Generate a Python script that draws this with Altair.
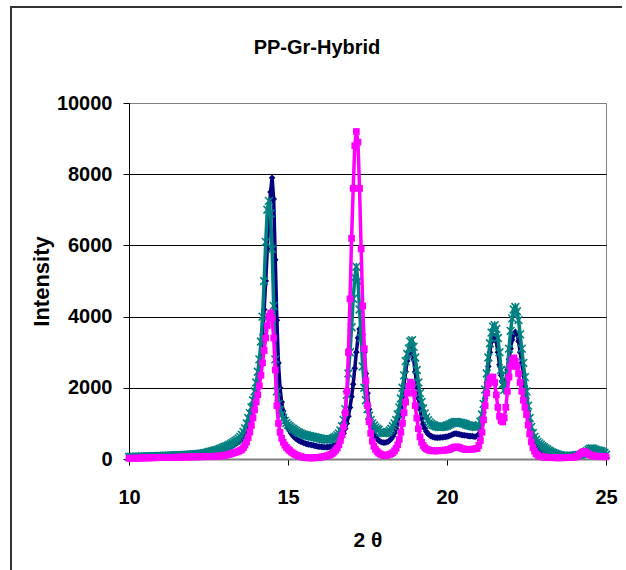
import altair as alt
import pandas as pd

# 2-theta sampling: start and step of the diffractogram (10.00 .. 25.00)
x_start = 10.0
x_step = 0.05

# Series values, one row per degree (20 samples per row)
navy_vals = [
    40, 42, 40, 45, 43, 45, 48, 46, 50, 48, 52, 50, 55, 53, 56, 55, 58, 60, 58, 62,
    65, 63, 66, 68, 70, 72, 70, 75, 78, 76, 80, 82, 85, 83, 88, 90, 92, 95, 98, 100,
    105, 108, 112, 115, 120, 125, 130, 135, 140, 150, 160, 170, 180, 190, 200, 210, 220, 235, 250, 265,
    280, 295, 310, 330, 350, 370, 395, 420, 450, 480, 510, 560, 630, 720, 840, 980, 1150, 1330, 1520, 1720,
    1950, 2200, 2500, 2900, 3500, 4200, 5000, 5900, 6800, 7500, 7900, 7300, 5600, 3900, 2700, 2000, 1600, 1350, 1150, 1000,
    880, 790, 720, 660, 610, 570, 540, 510, 490, 470, 450, 435, 420, 410, 400, 390, 380, 370, 360, 350,
    345, 340, 335, 330, 330, 335, 340, 350, 365, 385, 410, 440, 480, 540, 620, 720, 850, 1000, 1200, 1450,
    1750, 2100, 2550, 3000, 3400, 3650, 3700, 3500, 3000, 2400, 1850, 1400, 1100, 880, 740, 640, 570, 520, 490, 470,
    460, 460, 470, 490, 520, 570, 640, 730, 850, 1000, 1200, 1450, 1750, 2100, 2450, 2750, 2950, 3100, 3050, 2800,
    2450, 2050, 1700, 1400, 1150, 980, 860, 770, 710, 670, 640, 620, 610, 600, 600, 600, 605, 610, 615, 620,
    630, 640, 660, 680, 700, 710, 710, 700, 690, 680, 670, 665, 660, 650, 645, 640, 640, 630, 625, 640,
    700, 820, 1000, 1300, 1700, 2150, 2600, 3000, 3300, 3450, 3450, 3300, 3000, 2650, 2350, 2150, 2100, 2200, 2500, 2800,
    3100, 3350, 3500, 3570, 3500, 3300, 3000, 2700, 2400, 2050, 1700, 1350, 1050, 800, 620, 490, 400, 340, 290, 250,
    220, 200, 185, 170, 160, 150, 140, 135, 130, 125, 120, 115, 110, 108, 105, 103, 100, 100, 102, 105,
    110, 112, 115, 118, 120, 125, 130, 140, 155, 170, 185, 195, 205, 215, 220, 215, 200, 180, 160, 140,
    100,
]

magenta_vals = [
    20, 22, 20, 25, 22, 25, 28, 26, 30, 28, 30, 32, 30, 34, 32, 35, 36, 35, 38, 40,
    40, 42, 40, 44, 45, 43, 46, 48, 47, 50, 50, 52, 50, 54, 55, 53, 56, 58, 57, 60,
    60, 58, 62, 60, 63, 62, 65, 64, 66, 65, 68, 70, 70, 72, 75, 78, 80, 85, 90, 95,
    100, 110, 120, 130, 145, 160, 175, 190, 200, 220, 240, 270, 320, 390, 480, 600, 760, 940, 1150, 1380,
    1600, 1800, 2050, 2350, 2700, 3050, 3400, 3750, 4000, 4100, 3950, 3400, 2500, 1500, 1000, 750, 580, 470, 390, 330,
    280, 240, 200, 170, 140, 115, 95, 80, 65, 55, 45, 40, 35, 32, 30, 30, 32, 35, 40, 45,
    50, 55, 62, 70, 80, 95, 110, 130, 160, 200, 250, 310, 400, 520, 680, 900, 1300, 1900, 3000, 4500,
    6200, 7600, 8800, 9200, 8900, 7600, 5900, 4300, 3100, 2200, 1500, 1050, 720, 500, 360, 270, 210, 170, 140, 120,
    100, 100, 105, 115, 130, 150, 180, 230, 300, 400, 550, 750, 1000, 1300, 1600, 1850, 2050, 2160, 2100, 1850,
    1500, 1150, 850, 620, 470, 380, 320, 285, 260, 245, 235, 230, 228, 228, 230, 232, 235, 240, 245, 250,
    255, 265, 280, 300, 320, 335, 340, 335, 320, 300, 285, 275, 270, 268, 268, 270, 275, 280, 290, 300,
    380, 520, 750, 1100, 1500, 1850, 2100, 2250, 2300, 2300, 2150, 1800, 1450, 1200, 1080, 1040, 1150, 1450, 1900, 2300,
    2600, 2780, 2840, 2750, 2600, 2400, 2150, 1900, 1650, 1450, 1250, 950, 700, 480, 320, 220, 150, 110, 85, 70,
    60, 55, 50, 45, 42, 40, 38, 36, 35, 34, 33, 33, 34, 35, 36, 38, 40, 42, 44, 46,
    50, 60, 80, 110, 150, 190, 210, 200, 170, 140, 115, 100, 90, 85, 80, 78, 75, 72, 70, 65,
    60,
]

teal_vals = [
    60, 62, 58, 65, 63, 60, 68, 66, 70, 65, 72, 70, 75, 73, 78, 76, 80, 78, 82, 85,
    88, 86, 90, 92, 90, 95, 98, 96, 100, 104, 102, 108, 110, 106, 112, 115, 118, 120, 118, 125,
    130, 132, 138, 140, 145, 150, 155, 160, 168, 175, 200, 205, 215, 225, 240, 250, 265, 280, 300, 320,
    340, 355, 375, 395, 420, 450, 480, 510, 540, 580, 620, 680, 760, 860, 1000, 1150, 1290, 1450, 1650, 1900,
    2150, 2450, 2800, 3300, 4000, 5000, 6100, 7000, 7250, 6900, 5900, 4300, 2800, 1900, 1550, 1380, 1250, 1150, 1070, 1010,
    960, 920, 880, 850, 820, 790, 760, 740, 720, 700, 680, 670, 660, 650, 640, 630, 620, 610, 600, 590,
    580, 570, 560, 550, 545, 545, 550, 560, 580, 600, 630, 670, 720, 800, 920, 1100, 1400, 1800, 2400, 3000,
    3700, 4500, 5100, 5400, 5000, 4200, 3400, 2600, 2000, 1650, 1400, 1220, 1100, 1000, 940, 890, 850, 820, 760, 740,
    730, 730, 740, 760, 800, 850, 920, 1000, 1100, 1250, 1450, 1700, 2000, 2350, 2750, 2950, 3100, 3300, 3340, 3150,
    2850, 2500, 2150, 1850, 1600, 1420, 1280, 1170, 1090, 1030, 990, 960, 940, 920, 910, 900, 900, 905, 910, 920,
    940, 960, 980, 1000, 1020, 1040, 1040, 1030, 1020, 1010, 1000, 990, 970, 950, 940, 930, 920, 910, 900, 910,
    950, 1050, 1250, 1550, 1950, 2400, 2850, 3250, 3550, 3720, 3760, 3650, 3400, 3000, 2500, 2100, 1940, 2050, 2500, 3100,
    3600, 3950, 4200, 4270, 4150, 3900, 3500, 3100, 2700, 2300, 1900, 1500, 1150, 900, 730, 620, 540, 480, 440, 400,
    360, 330, 300, 270, 240, 215, 190, 170, 150, 135, 120, 110, 100, 95, 90, 88, 85, 85, 90, 95,
    100, 105, 110, 115, 120, 130, 150, 180, 220, 260, 290, 300, 290, 270, 250, 240, 230, 220, 200, 170,
    120,
]

series_names = ["Series1", "Series2", "Series3"]
series_colors = ["#000080", "#FF00FF", "#008080"]
x_ticks = [10, 15, 20, 25]
y_ticks = [0, 2000, 4000, 6000, 8000, 10000]
chart_title = "PP-Gr-Hybrid"
x_title = "2 θ"
y_title = "Intensity"

two_theta = [round(x_start + x_step * i, 2) for i in range(len(navy_vals))]

rows = []
for name, vals in zip(series_names, [navy_vals, magenta_vals, teal_vals]):
    for xv, yv in zip(two_theta, vals):
        rows.append({"two_theta": xv, "intensity": yv, "series": name})
df = pd.DataFrame(rows)

FONT = "Liberation Sans, Arial, sans-serif"

W, H = 477, 356
PAD_L, PAD_T = 129, 103

x_enc = alt.X(
    "two_theta:Q",
    scale=alt.Scale(domain=[10, 25], nice=False, zero=False),
    axis=alt.Axis(
        values=x_ticks, title=x_title, grid=False,
        domainColor="#808080", domainWidth=2,
        tickColor="#000000", tickSize=6, tickWidth=1,
        labelFont=FONT, labelFontSize=20, labelFontWeight="bold", labelColor="#000000",
        labelPadding=22, labelFlush=False,
        titleFont=FONT, titleFontSize=21, titleFontWeight="bold", titleColor="#000000",
        titleY=81, titleBaseline="middle",
    ),
)
y_enc = alt.Y(
    "intensity:Q",
    scale=alt.Scale(domain=[0, 10000], nice=False),
    axis=alt.Axis(
        values=y_ticks, format="d", title=y_title,
        domainColor="#000000", domainWidth=1,
        tickColor="#000000", tickSize=6, tickWidth=1,
        grid=True,
        gridColor=alt.condition("datum.value == 10000 || datum.value == 0",
                                alt.value("#808080"), alt.value("#000000")),
        gridWidth=1,
        labelFont=FONT, labelFontSize=20, labelFontWeight="bold", labelColor="#000000",
        labelPadding=11, labelFlush=False,
        titleFont=FONT, titleFontSize=22, titleFontWeight="bold", titleColor="#000000",
        titleX=-88, titleY=H / 2, titleAngle=270, titleBaseline="middle",
    ),
)

base = alt.Chart(df)

STAR = "M-1,-1L1,1M-1,1L1,-1M0,-1L0,1"
shapes = {"Series1": "diamond", "Series2": "square", "Series3": STAR}

layers = []
# Drawing order: navy, teal, magenta
for name in ["Series1", "Series3", "Series2"]:
    color = series_colors[series_names.index(name)]
    sub = base.transform_filter(alt.datum.series == name)
    layers.append(sub.mark_line(color=color, strokeWidth=3.5).encode(x=x_enc, y=y_enc))
    if name == "Series3":
        pts = sub.mark_point(shape=STAR, filled=False, color=color, size=60,
                             strokeWidth=1.6, opacity=1)
    else:
        pts = sub.mark_point(shape=shapes[name], filled=True, color=color, size=45,
                             opacity=1)
    layers.append(pts.encode(x=x_enc, y=y_enc))

one = pd.DataFrame({"t": [chart_title]})
title_mark = alt.Chart(one).mark_text(
    font=FONT, fontSize=20, fontWeight="bold", color="#000000",
    align="center", baseline="alphabetic",
).encode(text="t:N", x=alt.value(317 - PAD_L), y=alt.value(54 - PAD_T))

frame_left = alt.Chart(one).mark_rule(color="#333333", strokeWidth=2).encode(
    x=alt.value(11 - PAD_L), y=alt.value(6 - PAD_T), y2=alt.value(575 - PAD_T))
frame_top = alt.Chart(one).mark_rule(color="#333333", strokeWidth=2).encode(
    x=alt.value(11 - PAD_L), x2=alt.value(622 - PAD_L), y=alt.value(7 - PAD_T))

chart = alt.layer(*layers, title_mark, frame_left, frame_top).properties(
    width=W, height=H,
    autosize="none",
    padding={"left": PAD_L, "top": PAD_T, "right": 626 - PAD_L - W, "bottom": 570 - PAD_T - H},
    background="#FFFFFF",
).configure_view(stroke="#808080", strokeWidth=1)

chart.save("out.html", embed_options={"renderer": "svg", "actions": False})
